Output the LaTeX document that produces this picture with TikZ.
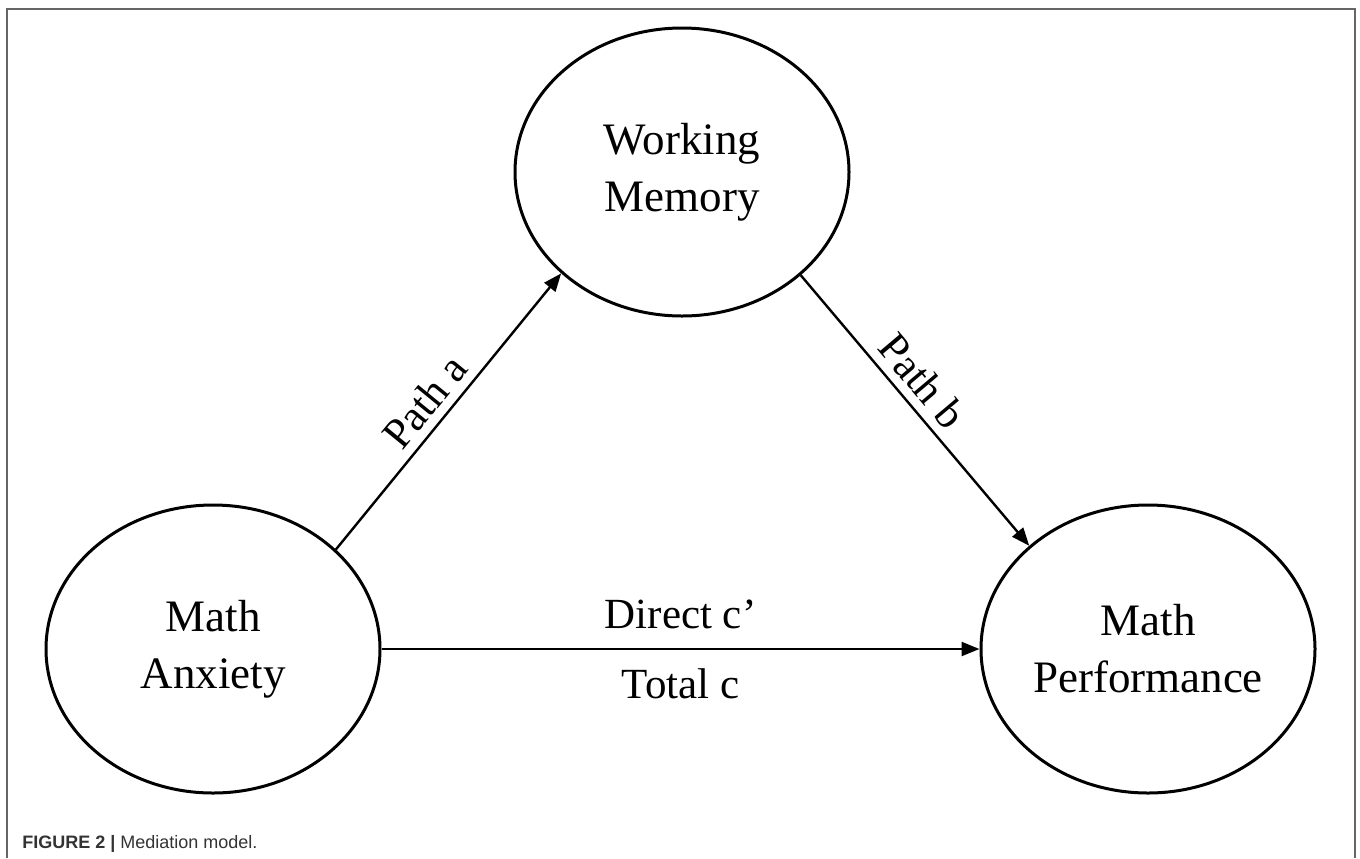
\documentclass[tikz,border=0pt]{standalone}
\usepackage{fontspec}
\setmainfont{Liberation Serif}
\newfontfamily\capfont{Liberation Sans}
\usetikzlibrary{shapes.geometric,arrows.meta}
\begin{document}
\begin{tikzpicture}[x=0.5pt,y=-0.5pt,
  var/.style={ellipse, draw, line width=1.5pt, minimum width=167pt, minimum height=144pt, inner sep=0pt, align=center, font=\fontsize{22.5pt}{28.5pt}\selectfont},
  arr/.style={line width=1.2pt, -{Triangle[length=9pt,width=7pt]}},
  lbl/.style={font=\fontsize{21.5pt}{25pt}\selectfont}]
\useasboundingbox (0,0) rectangle (1360,858);
\fill[white] (0,0) rectangle (1360,858);
\draw[color=black!60, line width=1pt] (7,858) -- (7,9) -- (1355,9) -- (1355,858);
\node[var] (wm) at (682,172) {Working\\Memory};
\node[var] (ma) at (213,649) {Math\\Anxiety};
\node[var] (mp) at (1148,649) {Math\\Performance};
\draw[arr] (ma.39) -- node[lbl, pos=0.48, above=1pt, sloped] {Path a} (wm.220.6);
\draw[arr] (wm.-41) -- node[lbl, pos=0.45, above=1pt, sloped] {Path b} (mp.139.6);
\draw[arr] (ma.east) -- node[lbl, above=6pt] {Direct c’} node[lbl, below=6pt] {Total c} (mp.west);
\node[anchor=base west, inner sep=0pt, font=\capfont\fontsize{9pt}{11pt}\selectfont, text=black!80] (cap) at (22,848) {\textbf{FIGURE 2 |} Mediation model.};
\end{tikzpicture}
\end{document}
